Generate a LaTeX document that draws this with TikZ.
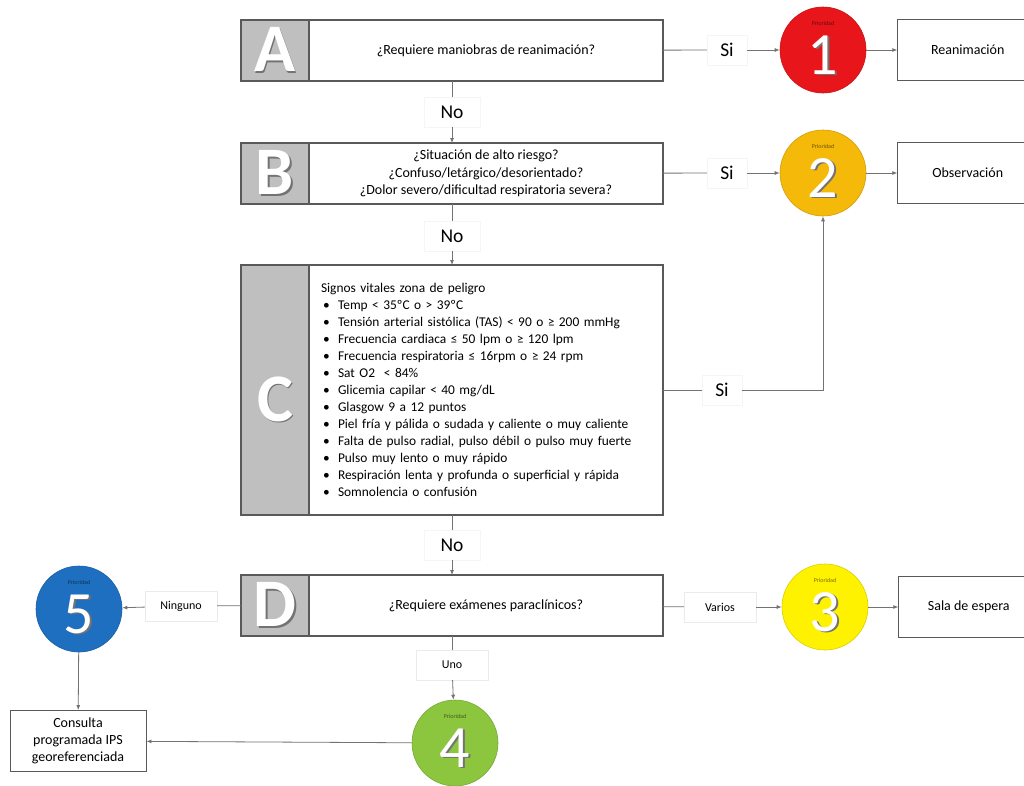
\documentclass[tikz,border=0pt]{standalone}
\usepackage{fontspec}
\setmainfont{Carlito}
\usetikzlibrary{positioning,arrows.meta}
\definecolor{gris}{RGB}{191,191,191}
\definecolor{borde}{RGB}{89,89,89}
\definecolor{rojo}{RGB}{232,22,27}
\definecolor{naranja}{RGB}{245,185,10}
\definecolor{amarillo}{RGB}{255,242,0}
\definecolor{verde}{RGB}{140,198,63}
\definecolor{azul}{RGB}{30,111,192}
\newcommand{\relieve}[1]{{\color{black!55}\rlap{\hspace{1.5pt}\raisebox{-1.5pt}{#1}}}{\color{white}#1}}
\newcommand{\vin}{\hspace*{2pt}\makebox[15pt][l]{\textbullet}}

\tikzset{
  letra/.style={draw=borde, fill=gris, line width=1.1pt, minimum width=68pt, minimum height=61pt,
    inner sep=0pt, outer sep=0pt, font=\fontsize{68}{68}\selectfont\bfseries},
  pregunta/.style={draw=borde, line width=1.1pt, minimum width=354pt, minimum height=61pt,
    align=center, outer sep=0pt, font=\fontsize{14}{17.5}\selectfont},
  prioridad/.style={circle, minimum size=86pt, inner sep=0pt, fill=#1, draw=#1!85!black,
    line width=0.6pt, text height=50pt, font=\fontsize{60}{60}\selectfont,
    label={[label distance=-22pt, font=\fontsize{6}{6}\selectfont, text=#1!45!black]90:Prioridad}},
  destino/.style={draw=borde, line width=0.9pt, minimum width=140pt, minimum height=61pt,
    align=center, font=\fontsize{14}{17}\selectfont},
  rotulo/.style={fill=white, draw=black!4, minimum width=40pt, minimum height=30pt,
    inner sep=2pt, font=\fontsize{19.5}{19.5}\selectfont},
  opcion/.style={fill=white, draw=black!8, minimum width=72pt, minimum height=30pt,
    inner sep=2pt, font=\fontsize{12}{12}\selectfont},
  linea/.style={draw=black!55, line width=0.8pt},
  flecha/.style={linea, -{Latex[length=5pt,width=4pt]}}
}

\begin{document}
\begin{tikzpicture}[x=1pt, y=-1pt]
  \useasboundingbox[fill=white] (0,0) rectangle (1024,785);

  % etapas
  \node[letra, anchor=north west] (la) at (241,20) {\relieve{A}};
  \node[pregunta, right=0pt of la] (qa) {¿Requiere maniobras de reanimación?};

  \node[letra, anchor=north west] (lb) at (241,143) {\relieve{B}};
  \node[pregunta, right=0pt of lb] (qb) {¿Situación de alto riesgo?\\
    ¿Confuso/letárgico/desorientado?\\ ¿Dolor severo/dificultad respiratoria severa?};

  \node[letra, anchor=north west, minimum height=250pt, text height=64pt] (lc) at (241,265) {\relieve{C}};
  \node[pregunta, right=0pt of lc, minimum height=250pt, text width=330pt, align=left,
    font=\fontsize{13.4}{17}\selectfont] (qc) {Signos vitales zona de peligro\\
    \vin Temp < 35ºC o > 39ºC\\
    \vin Tensión arterial sistólica (TAS) < 90 o ≥ 200 mmHg\\
    \vin Frecuencia cardiaca ≤ 50 lpm o ≥ 120 lpm\\
    \vin Frecuencia respiratoria ≤ 16rpm o ≥ 24 rpm\\
    \vin Sat O2 \ < 84\%\\
    \vin Glicemia capilar < 40 mg/dL\\
    \vin Glasgow 9 a 12 puntos\\
    \vin Piel fría y pálida o sudada y caliente o muy caliente\\
    \vin Falta de pulso radial, pulso débil o pulso muy fuerte\\
    \vin Pulso muy lento o muy rápido\\
    \vin Respiración lenta y profunda o superficial y rápida\\
    \vin Somnolencia o confusión};

  \node[letra, anchor=north west] (ld) at (241,575) {\relieve{D}};
  \node[pregunta, right=0pt of ld] (qd) {¿Requiere exámenes paraclínicos?};

  % prioridades
  \node[prioridad=rojo] (p1) at (823,50) {\relieve{1}};
  \node[prioridad=naranja] (p2) at (823,173) {\relieve{2}};
  \node[prioridad=amarillo] (p3) at (825,607) {\relieve{3}};
  \node[prioridad=verde] (p4) at (455,743) {\relieve{4}};
  \node[prioridad=azul] (p5) at (79,609) {\relieve{5}};

  % destinos
  \node[destino, right=31pt of p1] (reanim) {Reanimación};
  \node[destino, right=31pt of p2] (observ) {Observación};
  \node[destino, right=30pt of p3] (sala) {Sala de espera};
  \node[destino, minimum width=136pt] (consulta) at (78,741) {Consulta\\ programada IPS\\ georeferenciada};

  % rotulos
  \node[rotulo] (sia) at (727,50) {Si};
  \node[rotulo] (sib) at (727,173) {Si};
  \node[rotulo] (sic) at (722,390) {Si};
  \node[rotulo, minimum width=56pt] (noa) at (452,112) {No};
  \node[rotulo, minimum width=56pt] (nob) at (452,236) {No};
  \node[rotulo, minimum width=56pt] (noc) at (452,545) {No};
  \node[opcion] (ning) at (181,606) {Ninguno};
  \node[opcion] (varios) at (720,607) {Varios};
  \node[opcion] (uno) at (452,665) {Uno};

  % conectores
  \draw[linea] (qa) -- (sia);
  \draw[flecha] (sia) -- (p1);
  \draw[flecha] (p1) -- (reanim);
  \draw[linea] (qb) -- (sib);
  \draw[flecha] (sib) -- (p2);
  \draw[flecha] (p2) -- (observ);
  \draw[linea] (qc) -- (sic);
  \draw[flecha] (sic) -| (p2);
  \draw[linea] (qa.south -| noa) -- (noa);
  \draw[flecha] (noa) -- (qb.north -| noa);
  \draw[linea] (qb.south -| nob) -- (nob);
  \draw[flecha] (nob) -- (qc.north -| nob);
  \draw[linea] (qc.south -| noc) -- (noc);
  \draw[flecha] (noc) -- (qd.north -| noc);
  \draw[linea] (ld) -- (ning);
  \draw[flecha] (ning) -- (p5);
  \draw[linea] (qd) -- (varios);
  \draw[flecha] (varios) -- (p3);
  \draw[flecha] (p3) -- (sala);
  \draw[linea] (qd.south -| uno) -- (uno);
  \draw[flecha] (uno) -- (p4);
  \draw[flecha] (p5) -- (consulta);
  \draw[flecha] (p4) -- (consulta);
\end{tikzpicture}
\end{document}
